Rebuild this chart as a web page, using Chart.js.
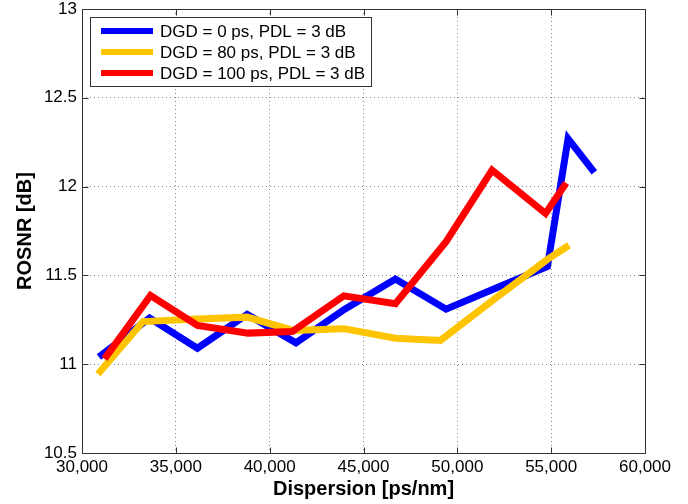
<!DOCTYPE html>
<html>
<head>
<meta charset="utf-8">
<title>ROSNR vs dispersion</title>
<script src="https://cdn.jsdelivr.net/npm/chart.js@4.4.1/dist/chart.umd.min.js"></script>
<style>
  html, body { margin: 0; padding: 0; background: #fff; }
  #wrap { width: 688px; height: 504px; }
</style>
</head>
<body>
<div id="wrap"><canvas id="chart" width="688" height="504"></canvas></div>
<script>
// values
const seriesLabels = ['DGD = 0 ps, PDL = 3 dB', 'DGD = 80 ps, PDL = 3 dB', 'DGD = 100 ps, PDL = 3 dB']

const dgd0X = [30900, 33600, 36150, 38800, 41400, 44000, 46700, 49400, 52100, 54800, 55900, 57300]
const dgd0Y = [11.04, 11.26, 11.09, 11.28, 11.12, 11.31, 11.48, 11.31, 11.43, 11.55, 12.27, 12.08]

const dgd80X = [30850, 33250, 36150, 38800, 41250, 43950, 46700, 49100, 52100, 54800, 55950]
const dgd80Y = [10.945, 11.24, 11.255, 11.265, 11.19, 11.2, 11.146, 11.134, 11.377, 11.59, 11.67]

const dgd100X = [31200, 33650, 36150, 38850, 41200, 43950, 46700, 49400, 51850, 54700, 55800]
const dgd100Y = [11.03, 11.387, 11.218, 11.175, 11.184, 11.385, 11.34, 11.69, 12.093, 11.849, 12.02]

const xTicks = [30000, 35000, 40000, 45000, 50000, 55000, 60000]
const yTicks = [10.5, 11, 11.5, 12, 12.5, 13]

const colors = ['#0000ff', '#ffc400', '#ff0000']

const pts = (xs, ys) => xs.map((x, i) => ({ x, y: ys[i] }))

// matlab style box, inward ticks and legend inside the axes
const matlabBox = {
	id: 'matlabBox',
	afterDatasetsDraw(chart) {
		const { ctx, chartArea: a, scales } = chart
		ctx.save()
		ctx.strokeStyle = '#333'
		ctx.lineWidth = 1
		ctx.setLineDash([])
		const L = Math.round(a.left) + 0.5
		const R = Math.round(a.right) + 0.5
		const T = Math.round(a.top) + 0.5
		const B = Math.round(a.bottom) + 0.5
		ctx.strokeRect(L, T, R - L, B - T)
		ctx.beginPath()
		xTicks.forEach(v => {
			const px = Math.round(scales.x.getPixelForValue(v)) + 0.5
			ctx.moveTo(px, T); ctx.lineTo(px, T + 6)
			ctx.moveTo(px, B); ctx.lineTo(px, B - 6)
		})
		yTicks.forEach(v => {
			const py = Math.round(scales.y.getPixelForValue(v)) + 0.5
			ctx.moveTo(L, py); ctx.lineTo(L + 6, py)
			ctx.moveTo(R, py); ctx.lineTo(R - 6, py)
		})
		ctx.stroke()
		ctx.restore()
	},
	afterDraw(chart) {
		const { ctx } = chart
		const bx = 90.5, by = 17.5, bw = 281, bh = 69
		ctx.save()
		ctx.fillStyle = '#fff'
		ctx.fillRect(bx, by, bw, bh)
		ctx.strokeStyle = '#333'
		ctx.lineWidth = 1
		ctx.strokeRect(bx, by, bw, bh)
		ctx.font = '17px "Liberation Sans", Arial, sans-serif'
		ctx.textBaseline = 'middle'
		ctx.fillStyle = '#000'
		seriesLabels.forEach((lab, i) => {
			const y = 31 + i * 21
			ctx.strokeStyle = colors[i]
			ctx.lineWidth = 6
			ctx.beginPath()
			ctx.moveTo(101, y); ctx.lineTo(153, y)
			ctx.stroke()
			ctx.fillText(lab, 160, y + 1)
		})
		ctx.restore()
	},
}

const tickFont = { family: '"Liberation Sans", Arial, sans-serif', size: 17 }
const titleFont = { family: '"Liberation Sans", Arial, sans-serif', size: 20, weight: 'bold' }

new Chart(document.getElementById('chart'), {
	type: 'line',
	data: {
		datasets: [
			{ label: seriesLabels[0], data: pts(dgd0X, dgd0Y), borderColor: colors[0], order: 3 },
			{ label: seriesLabels[1], data: pts(dgd80X, dgd80Y), borderColor: colors[1], order: 2 },
			{ label: seriesLabels[2], data: pts(dgd100X, dgd100Y), borderColor: colors[2], order: 1 },
		],
	},
	options: {
		responsive: false,
		animation: false,
		devicePixelRatio: 1,
		layout: { padding: { left: 0, right: 43, top: 9, bottom: 0 } },
		elements: {
			line: { borderWidth: 7, tension: 0, fill: false, borderCapStyle: 'butt' },
			point: { radius: 0, hoverRadius: 0 },
		},
		plugins: {
			legend: { display: false },
			tooltip: { enabled: false },
		},
		scales: {
			x: {
				type: 'linear',
				min: 30000,
				max: 60000,
				afterFit: s => { s.height = 51 },
				afterBuildTicks: s => { s.ticks = xTicks.map(v => ({ value: v })) },
				grid: { color: '#888', drawTicks: false },
				border: { display: false, dash: [1, 3] },
				ticks: {
					color: '#000',
					font: tickFont,
					padding: 4,
					maxRotation: 0,
					callback: v => v.toLocaleString('en-US'),
				},
				title: { display: true, text: 'Dispersion [ps/nm]', color: '#000', font: titleFont, padding: { top: 0, bottom: 3 } },
			},
			y: {
				min: 10.5,
				max: 13,
				afterFit: s => { s.width = 82; s.paddingTop = 0; s.paddingBottom = 0 },
				afterBuildTicks: s => { s.ticks = yTicks.map(v => ({ value: v })) },
				grid: { color: '#888', drawTicks: false },
				border: { display: false, dash: [1, 3] },
				ticks: {
					color: '#000',
					font: tickFont,
					padding: 5,
					callback: v => String(v),
				},
				title: { display: true, text: 'ROSNR [dB]', color: '#000', font: titleFont, padding: { top: 13, bottom: 0 } },
			},
		},
	},
	plugins: [matlabBox],
})
</script>
</body>
</html>
